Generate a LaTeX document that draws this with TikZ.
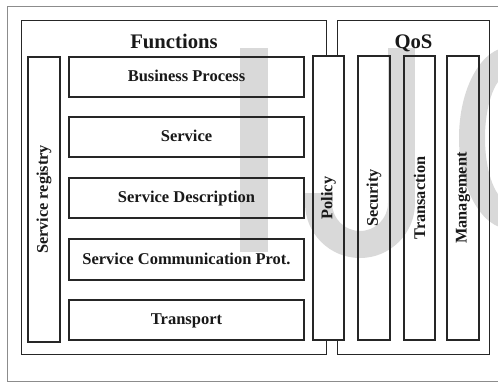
\documentclass[tikz,border=0pt]{standalone}
\usepackage{fontspec}
\setmainfont{Liberation Serif}
\begin{document}
\begin{tikzpicture}[x=1pt,y=-1pt,
  box/.style={draw=black!85, line width=1.2pt, rectangle, inner sep=0pt},
  lbl/.style={font=\bfseries\fontsize{16.5}{18}\selectfont, text=black!90, inner sep=0pt},
  vlbl/.style={font=\bfseries\fontsize{16.3}{18}\selectfont, text=black!90, inner sep=0pt, rotate=90},
  ttl/.style={font=\bfseries\fontsize{20.7}{24}\selectfont, text=black!90, inner sep=0pt},
  wm/.style={fill=black!15, draw=none},
  frameline/.style={draw=black!45, line width=0.8pt}]
\useasboundingbox (0,0) rectangle (498,383);
\clip (0,0) rectangle (498,383);
\fill[white] (0,0) rectangle (498,383);
% watermark
\fill[wm] (240,48) rectangle (268,252);
\fill[wm] (388,48) rectangle (415,203);
\fill[wm] (305,193) rectangle (333,203);
\begin{scope}
  \clip (300,203) rectangle (420,265);
  \fill[wm, even odd rule] (360,203) circle[radius=55pt] (360,203) circle[radius=28pt];
\end{scope}
\fill[wm, even odd rule] (510,138) ellipse[x radius=51pt, y radius=91pt] (510,138) ellipse[x radius=25pt, y radius=64pt];
% outer frame
\draw[frameline] (505,6) -- (7,6) -- (7,381) -- (505,381);
% group frames
\node[minimum width=304pt, minimum height=333pt, inner sep=0pt] (fun) at (174,187.5) {};
\node[minimum width=151pt, minimum height=333pt, inner sep=0pt] (qos) at (413.5,187.5) {};
\node[ttl, anchor=base] (funt) at (174,48) {Functions};
\node[ttl, anchor=base] (qost) at (413.5,48) {QoS};
% function layers
\node[box, minimum width=235pt, minimum height=40pt] (bp) at (186.5,77) {};
\node[box, minimum width=235pt, minimum height=40pt] (sv) at (186.5,137) {};
\node[box, minimum width=235pt, minimum height=40pt] (sd) at (186.5,198) {};
\node[box, minimum width=235pt, minimum height=41pt] (sc) at (186.5,259.5) {};
\node[box, minimum width=235pt, minimum height=40pt] (tr) at (186.5,320) {};
\node[lbl, anchor=base] (bpt) at ([yshift=-4.5pt]bp.center) {Business Process};
\node[lbl, anchor=base] (svt) at ([yshift=-4.5pt]sv.center) {Service};
\node[lbl, anchor=base] (sdt) at ([yshift=-4.5pt]sd.center) {Service Description};
\node[lbl, anchor=base] (sct) at ([yshift=-4.5pt]sc.center) {Service Communication Prot.};
\node[lbl, anchor=base] (trt) at ([yshift=-4.5pt]tr.center) {Transport};
% vertical boxes
\node[box, minimum width=32pt, minimum height=285pt] (reg) at (44,199.5) {};
\node[box, minimum width=31pt, minimum height=284pt] (pol) at (328.5,198) {};
\node[box, minimum width=32pt, minimum height=284pt] (sec) at (374,198) {};
\node[box, minimum width=31pt, minimum height=284pt] (tra) at (419.5,198) {};
\node[box, minimum width=32pt, minimum height=284pt] (man) at (463,198) {};
\node[vlbl] (regt) at (reg.center) {Service registry};
\node[vlbl] (polt) at (pol.center) {Policy};
\node[vlbl] (sect) at (sec.center) {Security};
\node[vlbl] (trat) at (tra.center) {Transaction};
\node[vlbl] (mant) at (man.center) {Management};
% group outlines, interrupted by the Policy box
\draw[box] (pol.north -| fun.east) -- (fun.north east) -- (fun.north west) -- (fun.south west) -- (fun.south east) -- (pol.south -| fun.east);
\draw[box] (pol.north -| qos.west) -- (qos.north west) -- (qos.north east) -- (qos.south east) -- (qos.south west) -- (pol.south -| qos.west);
\end{tikzpicture}
\end{document}
